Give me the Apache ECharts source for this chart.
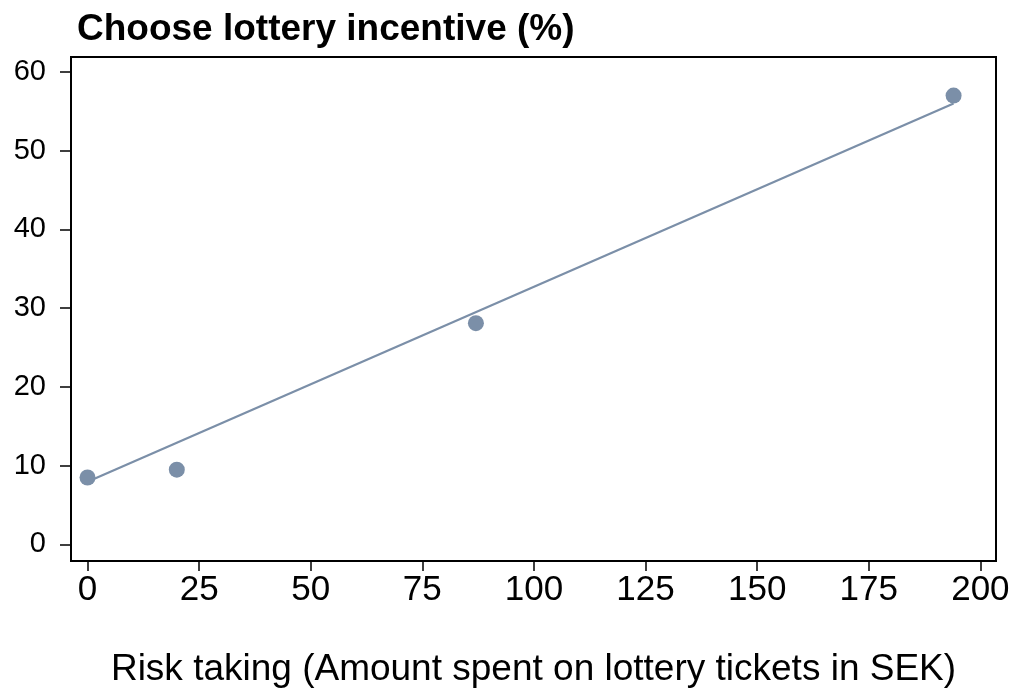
<!DOCTYPE html>
<html>
<head>
<meta charset="utf-8">
<script src="https://cdn.jsdelivr.net/npm/echarts@6/dist/echarts.min.js"></script>
<style>
html,body{margin:0;padding:0;background:#fff;}
#c{width:1018px;height:695px;}
</style>
</head>
<body>
<div id="c"></div>
<script>
// Data
var spentSEK = [0, 20, 87, 194];
var lotteryPct = [8.5, 9.5, 28.1, 57.0];
var fitX = [0, 194];
var fitY = [7.95, 56.0];
var xTicks = [0, 25, 50, 75, 100, 125, 150, 175, 200];
var yTicks = [0, 10, 20, 30, 40, 50, 60];

var color = '#7b8fa8';
var fontFam = '"Liberation Sans", Arial, Helvetica, sans-serif';

var chart = echarts.init(document.getElementById('c'), null, {renderer: 'canvas'});
chart.setOption({
  animation: false,
  backgroundColor: '#fff',
  title: {
    text: 'Choose lottery incentive (%)',
    left: 72, top: 6,
    textStyle: {fontFamily: fontFam, fontWeight: 'bold', fontSize: 37, color: '#000'}
  },
  grid: {
    left: 71, right: 22, top: 57, bottom: 134,
    show: true, borderColor: '#000', borderWidth: 2, backgroundColor: '#fff'
  },
  xAxis: {
    type: 'value',
    min: -3.7, max: 203.5,
    name: 'Risk taking (Amount spent on lottery tickets in SEK)',
    nameLocation: 'middle', nameGap: 90,
    nameTextStyle: {fontFamily: fontFam, fontSize: 37, color: '#000'},
    axisLine: {show: true, onZero: false, lineStyle: {color: '#000', width: 2}},
    axisTick: {show: true, length: 10, lineStyle: {color: '#000', width: 1.5}, customValues: xTicks},
    axisLabel: {fontFamily: fontFam, fontSize: 35, color: '#000', margin: 12, customValues: xTicks},
    splitLine: {show: false}
  },
  yAxis: {
    type: 'value',
    min: -2.1, max: 61.9,
    axisLine: {show: true, onZero: false, lineStyle: {color: '#000', width: 2}},
    axisTick: {show: true, length: 11, lineStyle: {color: '#000', width: 1.5}, customValues: yTicks},
    axisLabel: {fontFamily: fontFam, fontSize: 29, color: '#000', margin: 25, customValues: yTicks},
    splitLine: {show: false}
  },
  series: [
    {
      type: 'line',
      data: fitX.map(function (x, i) { return [x, fitY[i]]; }),
      showSymbol: false,
      lineStyle: {color: color, width: 2.2},
      z: 2
    },
    {
      type: 'scatter',
      data: spentSEK.map(function (x, i) { return [x, lotteryPct[i]]; }),
      symbol: 'circle',
      symbolSize: 16,
      itemStyle: {color: color, opacity: 1},
      z: 3
    }
  ]
});
</script>
</body>
</html>
